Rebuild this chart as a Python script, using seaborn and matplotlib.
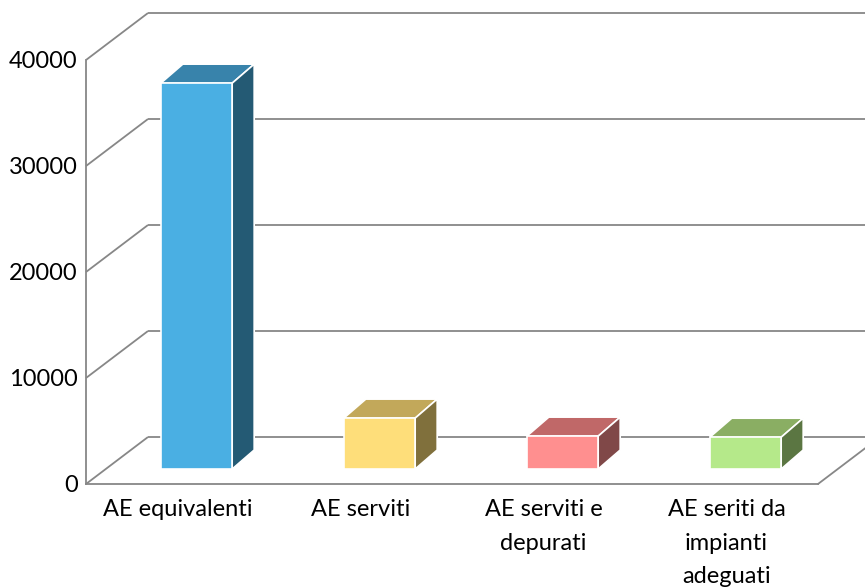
import matplotlib
matplotlib.use("Agg")
import matplotlib.pyplot as plt
import seaborn as sns
import pandas as pd
from matplotlib.patches import Polygon

# Data
categories = ["AE equivalenti", "AE serviti", "AE serviti e depurati",
              "AE seriti da impianti adeguati"]
tick_labels = ["AE equivalenti", "AE serviti", "AE serviti e\ndepurati",
               "AE seriti da\nimpianti\nadeguati"]
values = [36400, 4800, 3100, 3000]
y_ticks = [0, 10000, 20000, 30000, 40000]

# Face colours of each 3-D column: front, top, side
front_colors = ["#4AAFE3", "#FEDE7A", "#FF8F8F", "#B5E98A"]
top_colors = ["#3883AB", "#C2A85A", "#C06868", "#8AAE63"]
side_colors = ["#245A74", "#80703C", "#804848", "#5B7642"]

sns.set_theme(style="white")
plt.rcParams["font.family"] = ["Lato", "DejaVu Sans"]

W, H = 865, 588
fig = plt.figure(figsize=(W / 100, H / 100), dpi=100)
ax = fig.add_axes([86 / W, (H - 484) / H, (818 - 86) / W, (484 - 60) / H])
ax.set_xlim(-0.5, 3.5)
ax.set_ylim(0, 40000)

# pixel -> data unit factors
ux = 4 / (818 - 86)
uy = 40000 / (484 - 60)

# oblique depth of the chart box and of the columns (in pixels)
wall_dx, wall_dy = 62 * ux, 47 * uy
bar_off_dx, bar_off_dy = 19 * ux, 15 * uy
bar_dx, bar_dy = 22 * ux, 19 * uy

grid_col = "#878787"
lw = 1.3

df = pd.DataFrame({"cat": categories, "val": values})
sns.barplot(data=df, x="cat", y="val", hue="cat", palette=front_colors,
            width=0.39, saturation=1, legend=False, ax=ax,
            edgecolor="white", linewidth=1.2, zorder=5)

# back wall gridlines and left wall diagonals
x_left = -0.5
x_right = 3.5
for v in y_ticks:
    ax.plot([x_left, x_left + wall_dx], [v, v + wall_dy], color=grid_col,
            lw=lw, clip_on=False, zorder=1, solid_capstyle="butt")
    ax.plot([x_left + wall_dx, x_right + wall_dx + 0.2], [v + wall_dy, v + wall_dy],
            color=grid_col, lw=lw, clip_on=False, zorder=1, solid_capstyle="butt")
# floor right edge
ax.plot([x_right, x_right + wall_dx], [0, wall_dy], color=grid_col, lw=lw,
        clip_on=False, zorder=1)

# columns: shift front faces into the box and add top and side faces
for p, tc, sc in zip(ax.patches, top_colors, side_colors):
    x0 = p.get_x() + bar_off_dx
    w = p.get_width()
    v = p.get_height()
    b = bar_off_dy
    p.set_x(x0)
    p.set_y(b)
    top = Polygon([(x0, b + v), (x0 + w, b + v), (x0 + w + bar_dx, b + v + bar_dy),
                   (x0 + bar_dx, b + v + bar_dy)], closed=True, facecolor=tc,
                  edgecolor="white", linewidth=1.2, zorder=4, clip_on=False)
    side = Polygon([(x0 + w, b), (x0 + w + bar_dx, b + bar_dy),
                    (x0 + w + bar_dx, b + v + bar_dy), (x0 + w, b + v)], closed=True,
                   facecolor=sc, edgecolor="white", linewidth=1.2, zorder=4,
                   clip_on=False)
    ax.add_patch(top)
    ax.add_patch(side)

for s in ["top", "right"]:
    ax.spines[s].set_visible(False)
for s in ["left", "bottom"]:
    ax.spines[s].set_color(grid_col)
    ax.spines[s].set_linewidth(lw)
    ax.spines[s].set_zorder(2)

ax.set_yticks(y_ticks)
ax.set_yticklabels([str(t) for t in y_ticks], fontsize=17, color="black")
ax.set_xticks(range(len(categories)))
ax.set_xticklabels(tick_labels, fontsize=17, color="black", linespacing=1.72)
ax.tick_params(axis="both", length=0)
ax.tick_params(axis="y", pad=6)
ax.tick_params(axis="x", pad=11)
ax.set_xlabel("")
ax.set_ylabel("")

fig.savefig("out.png", dpi=100)
